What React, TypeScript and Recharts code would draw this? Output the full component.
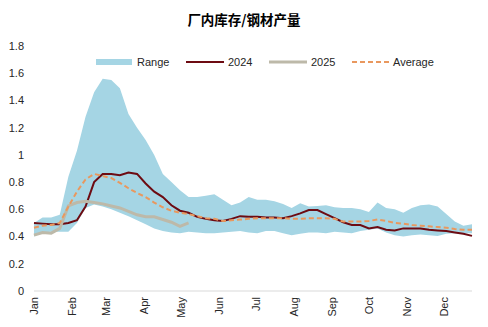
import React from "react";
import { ComposedChart, Area, Line, XAxis, YAxis } from "recharts";

// weekly values, week 0 = first week of Jan
const rangeHigh = [
  0.5, 0.54, 0.54, 0.56, 0.84, 1.03, 1.28, 1.46, 1.56, 1.55,
  1.49, 1.3, 1.2, 1.11, 1.0, 0.86, 0.8, 0.74, 0.69, 0.69,
  0.7, 0.71, 0.67, 0.63, 0.65, 0.69, 0.67, 0.67, 0.66, 0.64,
  0.61, 0.645, 0.62, 0.625, 0.63, 0.615, 0.61, 0.61, 0.6, 0.58,
  0.65, 0.61, 0.6, 0.575, 0.61, 0.63, 0.635, 0.62, 0.565, 0.51,
  0.48, 0.49,
];
const rangeLow = [
  0.4, 0.43, 0.435, 0.435, 0.435, 0.5, 0.61, 0.635, 0.62, 0.6,
  0.575, 0.55, 0.52, 0.49, 0.46, 0.44, 0.43, 0.425, 0.435, 0.43,
  0.425, 0.425, 0.43, 0.435, 0.44, 0.43, 0.425, 0.44, 0.44, 0.425,
  0.41, 0.42, 0.43, 0.43, 0.425, 0.435, 0.43, 0.425, 0.44, 0.45,
  0.46, 0.43, 0.41, 0.4, 0.41, 0.415, 0.41, 0.405, 0.42, 0.425,
  0.425, 0.425,
];
const y2024 = [
  0.5, 0.495, 0.49, 0.49, 0.5, 0.52, 0.62, 0.8, 0.86, 0.86,
  0.85, 0.87, 0.86, 0.79, 0.73, 0.69, 0.63, 0.59, 0.575, 0.545,
  0.53, 0.52, 0.515, 0.53, 0.55, 0.545, 0.545, 0.54, 0.54, 0.535,
  0.55, 0.57, 0.595, 0.595, 0.565, 0.535, 0.505, 0.485, 0.485, 0.46,
  0.47, 0.45, 0.445, 0.46, 0.46, 0.46, 0.45, 0.445, 0.44, 0.43,
  0.42, 0.405,
];
const y2025 = [
  0.41, 0.43, 0.425, 0.46, 0.625, 0.65, 0.66, 0.65, 0.64, 0.625,
  0.61, 0.585, 0.56, 0.545, 0.545, 0.525, 0.505, 0.475, 0.5,
];
const average = [
  0.465, 0.48, 0.485, 0.5, 0.62, 0.73, 0.82, 0.86, 0.845, 0.83,
  0.795, 0.755, 0.72, 0.69, 0.65, 0.615, 0.59, 0.575, 0.565, 0.55,
  0.535, 0.53, 0.515, 0.52, 0.525, 0.53, 0.535, 0.535, 0.535, 0.535,
  0.53, 0.53, 0.535, 0.535, 0.535, 0.53, 0.51, 0.51, 0.51, 0.515,
  0.525, 0.515, 0.5, 0.495, 0.485, 0.48, 0.475, 0.47, 0.465, 0.455,
  0.45, 0.45,
];

const months = ["Jan", "Feb", "Mar", "Apr", "May", "Jun", "Jul", "Aug", "Sep", "Oct", "Nov", "Dec"];
const monthTicks = [0, 4.43, 8.43, 12.86, 17.14, 21.57, 25.86, 30.29, 34.71, 39, 43.43, 47.71];
const yTicks = [0, 0.2, 0.4, 0.6, 0.8, 1, 1.2, 1.4, 1.6, 1.8];

const COLORS = {
  range: "#a5d5e4",
  y2024: "#6d0b12",
  y2025: "#bdb9a9",
  avg: "#e9985e",
};

const FONT = "'Liberation Sans', Arial, sans-serif";

const data = rangeHigh.map((h, i) => ({
  week: i,
  range: [rangeLow[i], h],
  y2024: y2024[i],
  y2025: i < y2025.length ? y2025[i] : null,
  avg: average[i],
}));

const MonthTick = (props: any) => {
  const { x, y, payload } = props;
  const idx = monthTicks.indexOf(payload.value);
  const ty = y - 2;
  return (
    <text
      x={x}
      y={ty}
      dy="0.35em"
      transform={`rotate(-90 ${x} ${ty})`}
      textAnchor="end"
      fontSize={11}
      fontFamily={FONT}
      fill="#262626"
    >
      {months[idx]}
    </text>
  );
};

export default function App() {
  return (
    <div style={{ position: "absolute", left: 0, top: 0, width: 488, height: 327, background: "#fff" }}>
      <ComposedChart
        width={488}
        height={327}
        data={data}
        margin={{ top: 46, right: 16, bottom: 0, left: 0 }}
      >
        <XAxis
          dataKey="week"
          type="number"
          domain={[0, 51]}
          ticks={monthTicks}
          interval={0}
          height={36}
          tickLine={false}
          axisLine={{ stroke: "#d9d9d9" }}
          tick={<MonthTick />}
        />
        <YAxis
          domain={[0, 1.8]}
          ticks={yTicks}
          width={34}
          axisLine={false}
          tickLine={false}
          tickMargin={4}
          tick={{ fontSize: 11, fontFamily: FONT, fill: "#262626" }}
        />
        <Area
          dataKey="range"
          type="linear"
          stroke="none"
          fill={COLORS.range}
          fillOpacity={1}
          isAnimationActive={false}
        />
        <Line
          dataKey="y2024"
          type="linear"
          stroke={COLORS.y2024}
          strokeWidth={2}
          dot={false}
          isAnimationActive={false}
        />
        <Line
          dataKey="y2025"
          type="linear"
          stroke={COLORS.y2025}
          strokeWidth={3}
          dot={false}
          isAnimationActive={false}
        />
        <Line
          dataKey="avg"
          type="linear"
          stroke={COLORS.avg}
          strokeWidth={2}
          strokeDasharray="5 3"
          dot={false}
          isAnimationActive={false}
        />
      </ComposedChart>

      {/* title + legend overlay */}
      <svg
        width={488}
        height={75}
        style={{ position: "absolute", left: 0, top: 0, pointerEvents: "none" }}
      >
        <text
          x={244}
          y={25}
          textAnchor="middle"
          fontSize={13.5}
          fontWeight="bold"
          fontFamily="'Noto Sans CJK SC', sans-serif"
          fill="#000"
        >
          厂内库存/钢材产量
        </text>
        <g fontSize={11} fontFamily={FONT} fill="#262626">
          <rect x={96} y={59} width={36} height={6} fill={COLORS.range} />
          <text x={137} y={66}>Range</text>
          <line x1={186} y1={62} x2={224} y2={62} stroke={COLORS.y2024} strokeWidth={2} />
          <text x={228} y={66}>2024</text>
          <line x1={269} y1={62} x2={307} y2={62} stroke={COLORS.y2025} strokeWidth={3} />
          <text x={311} y={66}>2025</text>
          <line
            x1={352}
            y1={62}
            x2={390}
            y2={62}
            stroke={COLORS.avg}
            strokeWidth={2}
            strokeDasharray="5 3"
          />
          <text x={393} y={66}>Average</text>
        </g>
      </svg>
    </div>
  );
}
